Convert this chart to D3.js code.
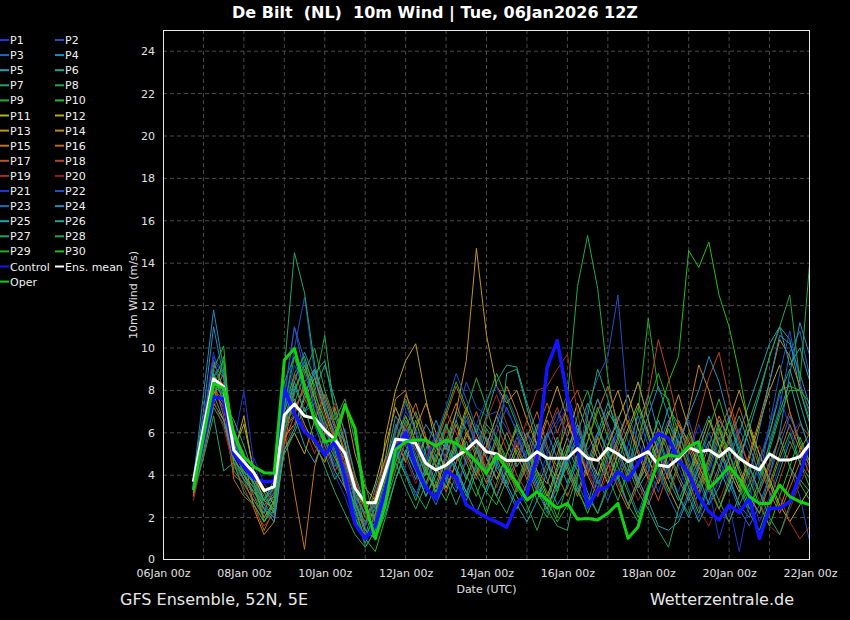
<!DOCTYPE html>
<html><head><meta charset="utf-8">
<script src="https://cdn.jsdelivr.net/npm/d3@7"></script>
<style>
html,body{margin:0;padding:0;background:#000;}
svg{display:block;font-family:"DejaVu Sans",sans-serif;}
</style></head><body>
<svg id="chart" width="850" height="620"></svg>
<script>
// ---------- data ----------
const runStart = Date.UTC(2026,0,6,18);   // first forecast step (06Jan 18z)
const stepHours = 6;
const yTicks = [0,2,4,6,8,10,12,14,16,18,20,22,24];
const xTickDays = [6,8,10,12,14,16,18,20,22];

const p1 = [3.4,5.8,8.2,7.0,5.5,8.0,4.5,3.2,2.6,6.0,
 7.5,6.2,5.8,6.5,4.8,4.2,2.5,1.8,2.2,3.5,
 5.0,6.2,4.8,3.5,4.4,3.8,5.6,4.5,6.2,5.0,
 3.8,4.6,5.5,4.0,6.2,5.0,3.6,4.4,5.8,4.2,
 3.2,4.8,6.0,5.2,3.8,4.4,5.5,4.0,3.2,5.0,
 6.4,4.8,3.6,4.2,5.6,3.4,1.8,3.0,4.5,5.8,
 6.5,5.2];
const p2 = [3.7,6.4,9.6,8.8,5.8,4.4,3.8,2.8,3.4,7.2,
 10.0,12.4,8.8,6.4,5.0,6.2,3.0,1.6,2.4,4.0,
 5.6,7.0,6.2,4.8,3.2,5.0,6.6,8.4,7.2,6.8,
 7.0,6.2,5.4,6.0,4.6,5.8,6.6,7.8,6.4,5.2,
 6.0,5.4,6.8,5.6,4.4,6.4,5.2,4.0,5.8,6.6,
 5.0,4.2,5.6,6.8,5.4,4.0,3.2,4.6,5.8,4.4,
 3.0,0.8];
const p3 = [3.5,6.0,9.0,8.2,4.8,4.0,3.4,2.2,3.0,7.8,
 11.0,9.4,7.6,5.6,4.4,5.2,2.6,0.6,1.4,3.2,
 6.4,5.4,4.2,5.8,2.8,3.6,5.2,6.8,5.4,4.2,
 6.0,7.2,6.0,4.6,3.4,2.8,4.2,5.0,3.6,2.6,
 4.4,6.0,4.8,3.4,2.2,3.6,5.4,6.6,5.0,3.8,
 2.4,3.8,5.2,4.0,2.6,2.0,3.4,5.6,7.2,9.8,
 10.8,8.6];
const p4 = [3.8,7.8,11.8,9.0,5.0,4.2,3.0,2.4,2.0,6.4,
 8.2,7.0,7.4,6.0,5.4,4.2,1.8,1.2,2.6,4.4,
 6.8,6.0,5.2,6.4,5.6,4.0,3.2,4.8,6.4,5.6,
 4.4,3.6,4.8,6.0,5.2,3.8,2.6,3.4,4.6,3.2,
 2.2,3.6,5.0,4.2,6.4,7.8,6.0,4.4,3.0,2.0,
 3.2,4.8,6.6,5.8,4.2,3.0,2.2,4.0,6.0,8.8,
 11.2,9.6];
const p5 = [3.3,5.4,8.0,7.4,5.6,4.4,3.6,2.8,3.8,6.2,
 6.8,5.4,4.6,5.8,4.2,3.4,2.4,1.6,3.4,4.8,
 5.4,4.2,3.0,4.4,5.6,4.8,3.6,2.8,4.2,5.4,
 6.8,5.6,4.4,5.2,3.8,2.6,3.4,4.8,5.6,4.0,
 5.8,7.0,6.2,4.8,3.4,4.2,5.6,7.2,6.4,5.2,
 4.0,2.6,3.4,4.8,6.0,7.4,8.8,10.2,11.0,10.4,
 8.0,6.4];
const p6 = [3.6,6.2,9.2,8.6,5.4,4.0,3.0,2.0,2.8,8.4,
 9.6,7.8,8.8,9.4,7.0,5.4,3.2,2.0,1.6,2.8,
 4.6,5.8,7.0,5.6,4.4,5.4,6.6,5.2,4.0,3.2,
 4.4,8.8,9.0,7.2,5.4,4.6,3.8,5.0,6.2,4.8,
 3.6,4.4,5.6,7.0,8.4,6.6,5.0,3.8,2.8,4.0,
 5.6,6.8,5.4,3.8,2.6,3.6,4.8,6.0,7.8,9.0,
 7.4,5.8];
const p7 = [3.4,5.0,7.2,6.4,4.6,3.8,2.6,1.8,2.4,9.0,
 14.5,12.6,9.2,7.4,5.8,4.2,2.0,0.8,1.8,3.4,
 5.0,4.0,3.2,2.4,3.6,5.0,4.2,3.0,4.6,6.2,
 5.4,4.0,3.0,2.2,3.4,4.6,5.8,4.4,3.2,2.4,
 3.8,5.2,4.0,2.6,1.8,3.2,4.8,6.4,5.6,4.2,
 3.0,4.4,5.8,4.6,3.4,2.2,1.4,2.8,4.2,5.6,
 4.6,3.8];
const p8 = [3.9,6.0,8.8,7.6,4.2,3.6,2.8,2.2,3.6,7.4,
 8.6,9.4,8.2,10.6,6.8,5.0,3.6,1.4,1.0,2.6,
 4.2,5.6,4.4,3.0,4.0,5.6,7.0,6.2,5.0,6.4,
 5.8,4.8,3.6,5.0,6.4,5.2,4.4,7.6,12.9,15.3,
 12.8,8.6,6.0,4.8,3.6,4.6,5.8,4.2,3.0,2.2,
 3.6,4.8,6.2,5.0,3.8,2.6,3.4,4.6,5.8,4.4,
 3.6,2.8];
const p9 = [3.2,5.6,8.4,9.0,6.0,4.6,3.8,3.0,2.2,6.6,
 7.0,8.2,6.4,5.0,3.8,4.6,3.4,2.4,3.0,4.6,
 6.2,7.6,6.0,4.4,3.2,4.0,5.4,7.0,8.6,7.2,
 5.6,4.2,3.4,4.4,5.6,4.6,3.2,5.0,6.8,8.0,
 6.4,5.0,3.8,4.8,7.0,11.4,8.0,7.6,5.2,3.6,
 4.8,6.2,7.6,6.0,4.4,3.2,4.6,6.0,8.0,8.2,
 8.0,6.6];
const p10 = [3.5,6.2,9.0,10.1,4.4,3.8,3.2,2.6,3.0,7.0,
 8.8,9.6,8.0,6.2,5.2,3.6,2.0,1.0,0.4,2.0,
 3.8,5.0,6.6,5.0,3.6,2.8,4.0,5.6,4.4,3.2,
 2.6,3.8,5.2,4.2,2.8,2.0,3.2,4.6,3.4,2.2,
 3.4,5.0,6.2,4.8,3.6,5.0,6.8,8.4,9.6,14.6,
 13.8,15.0,12.5,11.0,8.8,6.2,4.6,3.4,4.8,6.0,
 4.6,3.4];
const p11 = [3.0,5.0,7.4,6.6,5.2,6.4,4.2,3.4,2.6,5.8,
 6.4,7.6,8.6,7.0,5.6,4.4,3.0,2.2,3.6,5.4,
 7.2,6.0,4.6,5.8,4.4,3.4,4.6,6.0,5.2,4.0,
 3.0,4.2,5.4,4.4,3.2,2.4,3.8,5.2,6.4,5.0,
 4.0,5.4,6.6,7.8,6.2,4.8,3.6,5.0,6.4,5.6,
 4.4,3.4,2.4,3.6,4.8,6.2,5.0,3.8,2.6,1.8,
 2.6,3.4];
const p12 = [3.3,5.6,8.6,7.8,5.0,6.8,4.0,2.8,2.4,5.2,
 6.0,5.0,6.6,7.8,6.4,5.0,3.8,2.4,2.0,5.8,
 8.0,9.4,10.2,7.6,5.4,4.2,5.6,7.2,6.0,4.8,
 3.8,5.0,6.2,5.4,4.2,3.0,4.4,5.8,7.4,6.0,
 4.8,3.6,5.0,6.2,7.4,6.0,4.6,3.4,2.4,3.8,
 5.2,6.6,5.4,4.2,3.2,4.8,6.4,8.0,9.2,7.0,
 5.4,4.4];
const p13 = [3.6,6.6,9.4,8.0,5.8,4.8,3.6,2.4,3.2,6.8,
 7.6,6.4,5.4,4.6,6.0,7.4,5.0,3.4,2.8,4.2,
 5.8,4.6,6.2,7.4,6.0,5.2,7.0,9.4,14.7,10.6,
 8.2,7.4,8.0,6.6,5.4,6.8,8.2,6.6,5.2,4.0,
 5.4,6.8,8.0,6.4,5.0,3.8,5.0,6.4,7.8,6.2,
 4.8,3.6,5.0,6.6,8.0,6.4,5.0,3.6,2.4,3.8,
 5.2,6.0];
const p14 = [3.1,5.2,7.8,8.8,6.0,5.0,2.4,1.2,1.8,5.4,
 8.0,9.0,7.6,6.2,5.0,3.4,2.2,1.6,3.0,4.8,
 7.6,8.0,6.0,4.2,3.4,4.8,6.4,5.0,4.0,5.4,
 6.8,8.2,7.0,5.6,4.2,3.6,5.0,6.4,5.4,4.0,
 3.0,4.4,5.8,7.0,8.4,6.6,5.0,3.8,5.2,7.0,
 9.2,8.0,6.2,4.6,3.4,5.0,6.6,8.4,10.4,9.6,
 8.2,7.0];
const p15 = [3.4,5.8,8.0,7.2,4.8,4.0,3.4,2.0,2.8,6.2,
 3.2,0.5,4.4,6.0,7.2,5.6,3.4,2.6,1.8,3.6,
 6.0,7.8,6.8,5.6,4.6,6.2,7.4,6.0,4.8,3.6,
 4.8,6.0,5.0,3.8,5.2,6.6,5.4,4.2,3.0,4.4,
 5.8,4.6,3.4,2.4,3.6,5.0,6.2,5.0,3.8,2.8,
 4.0,5.4,6.8,5.6,4.2,3.0,2.2,3.6,5.0,6.4,
 5.2,4.0];
const p16 = [3.0,5.4,8.8,7.4,3.8,3.0,2.6,1.4,2.4,5.6,
 6.8,8.4,9.0,7.2,5.8,4.6,2.8,1.2,2.0,3.4,
 5.0,6.2,7.4,5.8,4.4,3.2,4.6,5.8,7.0,5.6,
 4.2,3.4,4.6,5.8,7.0,5.4,4.0,3.0,4.2,5.6,
 7.0,8.2,6.4,4.8,3.6,2.6,3.8,5.2,6.6,5.4,
 4.2,3.2,4.4,5.8,7.2,5.8,4.4,3.2,2.2,3.4,
 4.6,5.6];
const p17 = [3.2,5.6,8.4,6.8,4.0,3.6,2.8,2.0,2.6,6.4,
 7.2,8.0,6.6,5.4,4.2,5.0,3.6,2.0,2.6,4.0,
 5.4,6.8,5.6,4.2,5.4,6.8,8.2,7.0,5.6,4.2,
 5.6,4.4,3.2,4.6,6.2,7.4,6.0,7.2,8.0,6.6,
 5.2,4.0,5.4,6.6,5.2,4.0,2.8,4.2,5.6,4.4,
 3.2,4.6,6.0,7.2,5.6,4.4,3.2,4.4,5.8,7.0,
 5.6,4.4];
const p18 = [3.5,6.0,8.0,7.6,5.2,4.6,3.8,3.2,2.8,5.8,
 8.8,7.6,6.8,7.8,6.4,5.2,2.8,1.6,2.8,4.4,
 5.0,6.4,5.2,4.0,5.6,7.0,6.0,4.8,3.8,5.2,
 6.4,5.2,4.0,3.2,4.6,6.0,7.2,5.8,4.6,6.2,
 7.6,6.2,5.0,3.8,5.4,7.8,10.4,8.6,6.4,5.0,
 6.8,8.6,9.8,7.6,5.8,4.4,3.2,2.4,3.8,5.2,
 6.4,5.8];
const p19 = [2.8,5.0,7.6,8.4,4.6,3.4,2.4,1.6,2.2,6.0,
 7.0,6.2,5.0,6.4,7.4,6.0,3.8,2.4,1.8,3.0,
 4.4,5.6,4.6,3.4,4.8,6.2,5.0,3.8,5.0,6.6,
 7.8,6.4,5.2,6.6,8.0,8.2,9.0,9.7,7.0,4.4,
 3.4,4.6,3.6,2.6,3.8,5.2,4.0,3.0,4.4,5.8,
 4.6,3.4,2.4,1.8,3.0,4.2,5.4,4.2,3.0,1.8,
 1.0,1.6];
const p20 = [3.6,5.8,7.6,6.2,4.4,3.8,3.0,2.4,3.4,5.4,
 6.4,7.4,8.2,6.8,5.6,4.4,3.0,2.2,3.2,4.6,
 5.8,4.8,3.6,4.8,6.0,4.8,3.6,4.6,5.8,4.4,
 3.4,4.6,5.6,4.2,3.2,4.4,5.6,6.8,5.4,4.2,
 3.0,4.0,5.2,4.0,2.8,3.8,5.0,6.2,4.8,3.6,
 2.4,1.6,2.8,4.0,5.2,4.0,2.8,1.6,1.2,2.4,
 3.6,4.6];
const p21 = [3.7,6.6,9.8,7.2,5.6,4.6,4.8,3.6,3.0,7.0,
 9.2,8.0,6.4,5.2,4.0,3.0,1.6,1.2,2.0,3.8,
 5.4,4.2,3.0,4.6,6.0,4.6,3.4,4.8,6.4,7.6,
 8.2,7.0,6.2,4.8,3.6,5.0,6.4,7.2,6.0,4.6,
 3.4,4.8,6.2,5.0,3.8,2.8,4.0,5.4,4.4,3.2,
 2.0,3.4,1.0,2.6,0.4,2.8,4.6,6.4,7.8,6.2,
 4.8,4.4];
const p22 = [3.4,6.0,9.4,8.8,5.0,4.2,3.6,2.6,3.2,7.6,
 11.0,8.8,7.4,6.2,5.0,4.4,2.4,1.6,2.8,4.4,
 6.0,7.4,6.0,4.6,5.8,7.2,8.8,7.6,6.2,5.0,
 6.4,7.8,6.6,5.4,4.4,5.8,7.0,5.8,4.4,7.2,
 8.6,9.6,12.5,6.8,5.6,4.4,3.2,4.6,6.0,4.8,
 3.6,2.6,3.8,5.0,6.2,5.0,3.8,6.4,8.8,10.8,
 8.4,6.8];
const p23 = [3.5,5.8,8.6,7.8,6.2,4.8,3.4,2.6,2.0,6.0,
 7.8,9.4,7.0,5.6,4.6,3.6,2.2,1.0,1.6,3.2,
 4.8,6.2,5.0,3.6,2.6,3.8,5.2,6.6,5.4,4.0,
 3.0,4.4,5.8,4.6,3.4,2.2,3.6,5.0,6.4,5.0,
 3.8,2.8,4.0,5.4,6.8,5.4,4.2,3.0,2.0,3.2,
 4.6,6.0,4.8,3.6,2.4,1.6,2.6,4.0,5.4,6.8,
 5.6,4.6];
const p24 = [3.9,7.0,11.0,8.6,5.4,4.4,3.6,2.8,3.6,7.0,
 8.4,9.8,8.6,7.2,6.0,4.8,3.0,2.2,2.6,4.2,
 5.8,5.0,3.8,5.2,6.6,5.4,4.2,3.2,4.4,5.8,
 4.6,3.4,2.4,3.6,4.8,6.0,4.8,3.6,4.8,6.2,
 7.6,6.4,5.2,4.0,5.4,6.8,8.2,6.8,5.4,6.8,
 8.0,9.6,8.4,6.6,5.0,4.0,6.2,8.4,10.6,10.2,
 8.8,7.2];
const p25 = [3.3,5.2,7.8,6.6,4.8,3.8,3.2,2.4,1.8,5.2,
 6.2,7.8,9.0,7.6,6.2,5.6,2.8,1.4,1.0,2.2,
 3.8,5.2,4.2,3.0,4.2,5.6,4.4,3.2,2.2,3.4,
 4.8,3.6,2.6,1.8,2.8,4.2,5.6,4.4,3.2,4.6,
 6.0,7.4,6.2,5.0,3.8,2.8,1.6,1.4,1.8,3.0,
 4.4,5.6,4.4,3.2,4.6,6.2,7.8,9.6,11.0,9.2,
 10.0,8.4];
const p26 = [3.7,6.2,8.8,7.4,6.6,5.4,4.0,3.2,2.2,6.6,
 8.4,7.0,8.0,9.2,7.6,6.0,4.0,2.6,1.2,3.0,
 5.0,6.6,5.4,4.0,5.2,6.4,5.0,3.8,5.2,6.8,
 8.4,9.2,9.1,7.4,6.0,4.6,3.4,4.6,6.0,7.4,
 6.2,5.0,3.8,2.6,3.8,5.2,6.6,5.2,4.0,3.0,
 1.8,2.8,4.2,5.6,6.8,5.4,4.0,5.4,7.0,8.4,
 6.6,5.2];
const p27 = [3.2,4.8,6.8,4.2,4.6,3.2,2.6,1.8,2.6,5.0,
 6.0,7.2,5.6,4.4,3.2,2.2,1.2,0.6,1.4,3.0,
 4.6,3.4,2.4,3.6,5.0,3.8,2.6,3.8,5.2,4.2,
 3.0,2.2,3.4,4.8,3.6,2.4,1.6,1.4,3.8,6.8,
 9.0,7.6,5.8,4.4,3.2,2.4,1.4,0.6,2.4,4.0,
 5.4,4.0,2.8,1.8,3.0,4.4,3.2,2.0,1.2,2.6,
 3.8,3.2];
const p28 = [3.6,5.6,8.2,7.8,5.8,4.6,3.8,2.6,3.0,6.2,
 7.4,8.8,10.0,8.0,6.6,7.6,5.6,3.6,1.8,3.2,
 4.6,6.0,4.8,3.6,4.8,6.4,5.2,4.0,3.0,4.4,
 5.8,4.6,3.4,2.6,1.4,2.8,4.2,5.4,4.2,3.0,
 2.2,3.4,4.6,6.0,7.2,5.8,4.4,3.2,4.6,6.0,
 4.8,3.6,2.4,3.8,5.2,6.6,8.0,9.6,11.0,12.5,
 8.4,14.2];
const p29 = [3.4,5.8,8.6,9.4,5.4,4.0,3.2,2.8,3.4,7.2,
 9.6,8.4,7.0,5.8,4.8,3.8,2.6,1.8,2.4,4.0,
 5.2,4.0,2.8,4.2,5.6,7.0,8.4,7.2,6.0,7.4,
 8.8,7.6,6.4,5.2,4.2,3.2,2.0,3.6,5.0,6.4,
 5.2,4.0,2.8,4.2,5.8,7.4,8.8,7.4,6.0,4.6,
 3.4,4.8,6.4,5.0,3.6,2.4,3.8,5.2,6.8,8.0,
 8.0,7.4];
const p30 = [3.5,5.4,7.4,9.6,4.6,4.2,3.6,1.8,2.8,6.4,
 8.0,9.2,7.8,6.6,5.4,4.0,2.4,1.0,2.2,3.8,
 5.6,6.8,5.6,4.2,3.2,4.4,5.8,4.6,3.4,2.2,
 3.6,5.0,6.4,5.2,4.0,2.8,1.8,2.6,4.0,5.6,
 7.2,5.8,4.4,3.2,2.0,3.4,4.8,6.2,4.8,3.4,
 2.2,3.6,5.2,6.6,5.2,3.8,2.6,1.6,3.0,4.4,
 5.8,4.6];

const control = [3.4,5.6,7.7,7.6,5.0,4.4,3.85,3.7,3.7,8.1,
 6.9,6.05,5.66,4.95,5.58,3.93,1.7,1.0,1.6,3.3,
 5.2,6.0,4.4,3.4,2.9,4.2,3.9,2.6,2.3,2.0,
 1.8,1.55,2.7,3.1,4.9,9.1,10.35,7.7,5.3,2.5,
 3.3,3.46,4.17,3.77,4.56,5.35,5.97,5.74,4.72,4.09,
 2.99,2.28,1.89,2.6,2.23,2.91,1.02,2.44,2.44,2.75,
 4.0,5.66];
const oper = [3.3,5.8,8.33,8.1,5.97,4.87,4.4,4.12,4.09,9.43,
 9.98,8.18,6.6,5.58,5.69,7.31,6.2,2.6,1.0,2.6,
 5.2,5.58,5.66,5.66,5.38,5.66,5.5,5.11,4.64,4.09,
 4.95,4.32,3.62,2.83,3.22,2.83,2.44,2.67,1.92,1.96,
 1.89,2.2,2.67,1.02,1.57,3.3,4.72,4.95,4.87,5.35,
 5.58,3.38,3.85,4.4,3.85,2.99,2.67,2.67,3.54,2.99,
 2.75,2.6];
const ensMean = [3.69,6.2,8.54,8.17,5.19,4.64,4.1,3.27,3.46,6.84,
 7.36,6.79,6.68,6.13,5.69,5.03,3.38,2.7,2.7,4.2,
 5.7,5.65,5.5,4.56,4.25,4.48,4.87,5.19,5.63,5.11,
 5.0,4.69,4.7,4.7,5.11,4.8,4.8,4.8,5.25,4.8,
 4.7,5.27,5.0,4.64,4.87,5.11,4.48,4.4,4.8,5.31,
 5.11,5.19,4.87,5.27,4.8,4.48,4.25,5.0,4.72,4.72,
 4.87,5.5];

const memberNames = d3.range(1,31).map(i=>"P"+i);
const memberValues = [p1,p2,p3,p4,p5,p6,p7,p8,p9,p10,p11,p12,p13,p14,p15,p16,p17,p18,p19,p20,
  p21,p22,p23,p24,p25,p26,p27,p28,p29,p30];

// ---------- styles ----------
const baseColors = ["#2233d4","#2250c4","#2268bb","#228cbf","#22a3b3","#22a48c","#22a468","#22a848","#22ae2a","#22bd1c",
  "#b4b41c","#bca61c","#c2941c","#c2841c","#c2741c","#c2641c","#c0541e","#b8441e","#a62e1e","#942020"];
const memberColors = baseColors.concat(baseColors.slice(0,10));

// ---------- chart ----------
const W=850,H=620;
const L=163,R=810,T=30,B=560;
const svg=d3.select("#chart");
svg.append("rect").attr("width",W).attr("height",H).attr("fill","#000");

const x=d3.scaleUtc().domain([new Date(Date.UTC(2026,0,6)),new Date(Date.UTC(2026,0,22))]).range([L,R]);
const y=d3.scaleLinear().domain([0,25]).range([B,T]);

// grid
const grid=svg.append("g");
grid.selectAll("line.h").data(yTicks.filter(v=>v>0)).join("line")
  .attr("x1",L).attr("x2",R).attr("y1",d=>y(d)).attr("y2",d=>y(d))
  .attr("stroke","#4a4a4a").attr("stroke-width",1).attr("stroke-dasharray","4,3");
const dayLines=d3.utcDay.range(new Date(Date.UTC(2026,0,7)),new Date(Date.UTC(2026,0,22)));
grid.selectAll("line.v").data(dayLines).join("line")
  .attr("x1",d=>x(d)).attr("x2",d=>x(d)).attr("y1",T).attr("y2",B)
  .attr("stroke","#4a4a4a").attr("stroke-width",1).attr("stroke-dasharray","4,3");

// axes
const yAxis=d3.axisLeft(y).tickValues(yTicks).tickSize(0).tickPadding(8);
const yg=svg.append("g").attr("transform",`translate(${L},0)`).call(yAxis)
  .call(g=>g.select(".domain").remove())
  .attr("font-family","DejaVu Sans").attr("font-size",11);
yg.selectAll("text").attr("fill","#e0e0e0");
yg.selectAll(".tick").filter(d=>d===0).select("text").attr("dy","0.2em");
const fmt=d3.utcFormat("%d%b %Hz");
const xAxis=d3.axisBottom(x).tickValues(xTickDays.map(d=>new Date(Date.UTC(2026,0,d)))).tickFormat(fmt).tickSize(0).tickPadding(9);
svg.append("g").attr("transform",`translate(0,${B})`).call(xAxis)
  .call(g=>g.select(".domain").remove())
  .attr("font-family","DejaVu Sans").attr("font-size",11)
  .selectAll("text").attr("fill","#e0e0e0");

// lines
svg.append("clipPath").attr("id","plotclip").append("rect").attr("x",L).attr("y",T).attr("width",R-L).attr("height",B-T);
const timeAt=i=>new Date(runStart+i*stepHours*3600e3);
const line=d3.line().x((d,i)=>x(timeAt(i))).y(d=>y(d));
const plot=svg.append("g").attr("clip-path","url(#plotclip)");
plot.selectAll("path.member").data(memberValues).join("path")
  .attr("d",d=>line(d)).attr("fill","none")
  .attr("stroke",(d,i)=>memberColors[i]).attr("stroke-width",1).attr("stroke-linejoin","miter");
plot.append("path").attr("d",line(control)).attr("fill","none").attr("stroke","#1414ff").attr("stroke-width",3.5).attr("stroke-linejoin","round");
plot.append("path").attr("d",line(ensMean)).attr("fill","none").attr("stroke","#ffffff").attr("stroke-width",3).attr("stroke-linejoin","round");
plot.append("path").attr("d",line(oper)).attr("fill","none").attr("stroke","#12d012").attr("stroke-width",3).attr("stroke-linejoin","round");

// frame
svg.append("rect").attr("x",L+0.5).attr("y",T+0.5).attr("width",R-L-1).attr("height",B-T-1)
  .attr("fill","none").attr("stroke","#e8e8e8").attr("stroke-width",1);

// legend
const legendItems=memberNames.map((n,i)=>({name:n,color:memberColors[i],col:i%2,row:Math.floor(i/2)}));
legendItems.push({name:"Control",color:"#1414ff",col:0,row:15});
legendItems.push({name:"Ens. mean",color:"#ffffff",col:1,row:15});
legendItems.push({name:"Oper",color:"#12d012",col:0,row:16});
const lg=svg.append("g").attr("font-family","DejaVu Sans").attr("font-size",11);
const li=lg.selectAll("g").data(legendItems).join("g")
  .attr("transform",d=>`translate(${d.col*55},${40+d.row*15.1})`);
li.append("line").attr("x1",0).attr("x2",9).attr("y1",0).attr("y2",0).attr("stroke",d=>d.color).attr("stroke-width",2);
li.append("text").attr("x",10).attr("y",4).attr("fill","#f0f0f0").text(d=>d.name);

// titles
svg.append("text").attr("x",435).attr("y",18).attr("text-anchor","middle")
  .attr("font-family","DejaVu Sans").attr("font-weight","bold").attr("font-size",16)
  .attr("fill","#ffffff").style("white-space","pre")
  .text("De Bilt  (NL)  10m Wind | Tue, 06Jan2026 12Z");
svg.append("text").attr("transform","translate(137,295) rotate(-90)").attr("text-anchor","middle")
  .attr("font-family","DejaVu Sans").attr("font-size",11).attr("fill","#e0e0e0").text("10m Wind (m/s)");
svg.append("text").attr("x",(L+R)/2).attr("y",593).attr("text-anchor","middle")
  .attr("font-family","DejaVu Sans").attr("font-size",11).attr("fill","#e0e0e0").text("Date (UTC)");
svg.append("text").attr("x",120).attr("y",605)
  .attr("font-family","DejaVu Sans").attr("font-size",16).attr("fill","#e8e8e8").text("GFS Ensemble, 52N, 5E");
svg.append("text").attr("x",794).attr("y",605).attr("text-anchor","end")
  .attr("font-family","DejaVu Sans").attr("font-size",16).attr("fill","#e8e8e8").text("Wetterzentrale.de");
</script>
</body></html>
